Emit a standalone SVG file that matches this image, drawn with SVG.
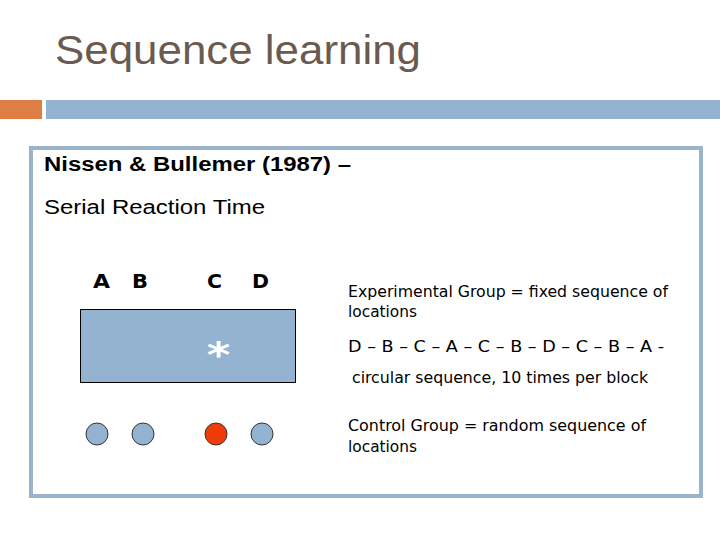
<svg xmlns="http://www.w3.org/2000/svg" width="720" height="540" viewBox="0 0 720 540">
<style>
.t{font-family:"Liberation Sans",Arial,sans-serif;fill:#000}
.v{font-family:"DejaVu Sans Condensed","DejaVu Sans",Verdana,sans-serif;fill:#000;font-size:16px}
.L{font-family:"DejaVu Sans",Verdana,sans-serif;font-weight:bold;font-size:19px;fill:#000}
.dot{fill:#94b3d0;stroke:#333;stroke-width:1}
</style>
<rect width="720" height="540" fill="#fff"/>
<text x="55" y="64" font-family="Liberation Sans,Arial,sans-serif" font-size="40" fill="#6b5a50" textLength="366" lengthAdjust="spacingAndGlyphs">Sequence learning</text>
<rect x="0" y="100" width="42" height="19" fill="#de7e44"/>
<rect x="46" y="100" width="674" height="19" fill="#94b3d0"/>
<rect x="31" y="148" width="670" height="348" fill="#fff" stroke="#9ab4cc" stroke-width="4"/>
<text class="t" x="44" y="171" font-size="19.5" font-weight="bold" textLength="307" lengthAdjust="spacingAndGlyphs">Nissen &amp; Bullemer (1987) –</text>
<text class="t" x="44" y="214" font-size="19.5" textLength="221" lengthAdjust="spacingAndGlyphs">Serial Reaction Time</text>
<g id="letters">
<text class="L" x="93" y="288" textLength="17" lengthAdjust="spacingAndGlyphs">A</text>
<text class="L" x="132" y="288" textLength="16" lengthAdjust="spacingAndGlyphs">B</text>
<text class="L" x="207" y="288" textLength="15" lengthAdjust="spacingAndGlyphs">C</text>
<text class="L" x="252" y="288" textLength="17" lengthAdjust="spacingAndGlyphs">D</text>
</g>
<g id="screen">
<rect x="80.5" y="309.5" width="215" height="73" fill="#94b3d0" stroke="#000" stroke-width="1"/>
<text x="0" y="0" transform="translate(218.5 367) scale(1.25 1)" text-anchor="middle" font-family="DejaVu Sans,sans-serif" font-weight="bold" font-size="36" fill="#fff">*</text>
</g>
<g id="dots">
<circle class="dot" cx="97" cy="434" r="11"/>
<circle class="dot" cx="143" cy="434" r="11"/>
<circle cx="216" cy="434" r="11" fill="#f03c0a" stroke="#333" stroke-width="1"/>
<circle class="dot" cx="262" cy="434" r="11"/>
</g>
<g id="desc">
<text class="v" x="348" y="297" textLength="320" lengthAdjust="spacingAndGlyphs">Experimental Group = fixed sequence of</text>
<text class="v" x="348" y="317" textLength="69" lengthAdjust="spacingAndGlyphs">locations</text>
<text class="v" x="348" y="352" textLength="316" lengthAdjust="spacingAndGlyphs">D – B – C – A – C – B – D – C – B – A -</text>
<text class="v" x="352" y="383" textLength="296" lengthAdjust="spacingAndGlyphs">circular sequence, 10 times per block</text>
<text class="v" x="348" y="431" textLength="298" lengthAdjust="spacingAndGlyphs">Control Group = random sequence of</text>
<text class="v" x="348" y="452" textLength="69" lengthAdjust="spacingAndGlyphs">locations</text>
</g>
</svg>
